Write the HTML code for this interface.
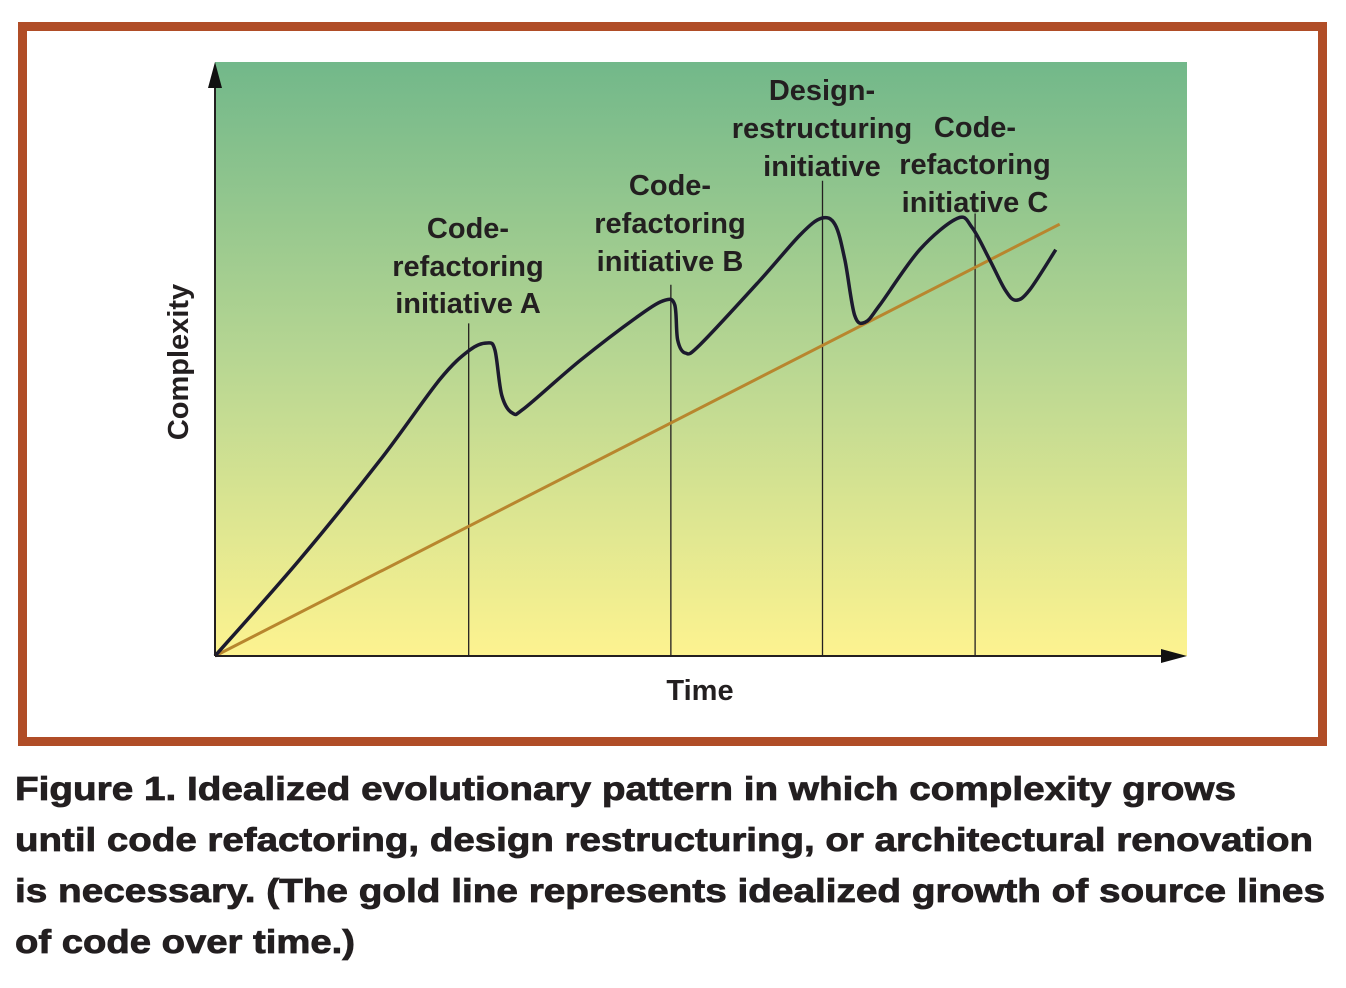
<!DOCTYPE html>
<html><head><meta charset="utf-8"><style>
html,body{margin:0;padding:0;background:#fff;}
svg{display:block;}
.lbl{font-family:"Liberation Sans Narrow","Liberation Sans",sans-serif;font-weight:bold;font-size:29px;fill:#231f20;text-anchor:middle;}
.cap{font-family:"Liberation Sans",sans-serif;font-weight:bold;font-size:33px;fill:#231f20;stroke:#231f20;stroke-width:0.8;}
</style></head><body>
<svg id="chart" width="1346" height="988" viewBox="0 0 1346 988" xmlns="http://www.w3.org/2000/svg">
<defs>
<linearGradient id="bg" x1="0" y1="0" x2="0" y2="1">
<stop offset="0" stop-color="#72b88a"/>
<stop offset="0.5" stop-color="#b7d692"/>
<stop offset="1" stop-color="#fdf390"/>
</linearGradient>
</defs>
<rect x="22.5" y="26.5" width="1300" height="715" fill="#fff" stroke="#b04d27" stroke-width="9"/>
<rect x="215" y="62" width="972" height="594" fill="url(#bg)"/>
<g id="marks"></g>
<line x1="215" y1="656" x2="215" y2="85" stroke="#231f20" stroke-width="2"/>
<polygon points="215,62 208,88 222,88" fill="#111"/>
<line x1="215" y1="656" x2="1165" y2="656" stroke="#231f20" stroke-width="2"/>
<polygon points="1187,656 1161,649 1161,663" fill="#111"/>
<text class="lbl" transform="translate(188,362) rotate(-90)">Complexity</text>
<text class="lbl" x="700" y="700">Time</text>
<g><text class="lbl" x="468" y="238">Code-</text><text class="lbl" x="468" y="276">refactoring</text><text class="lbl" x="468" y="313">initiative A</text></g>
<g><text class="lbl" x="670" y="195">Code-</text><text class="lbl" x="670" y="233">refactoring</text><text class="lbl" x="670" y="271">initiative B</text></g>
<g><text class="lbl" x="822" y="100">Design-</text><text class="lbl" x="822" y="138">restructuring</text><text class="lbl" x="822" y="176">initiative</text></g>
<g><text class="lbl" x="975" y="137">Code-</text><text class="lbl" x="975" y="174">refactoring</text><text class="lbl" x="975" y="212">initiative C</text></g>
<g>
<text class="cap" x="15" y="800" textLength="1221" lengthAdjust="spacingAndGlyphs">Figure 1. Idealized evolutionary pattern in which complexity grows</text>
<text class="cap" x="15" y="851" textLength="1298" lengthAdjust="spacingAndGlyphs">until code refactoring, design restructuring, or architectural renovation</text>
<text class="cap" x="15" y="902" textLength="1310" lengthAdjust="spacingAndGlyphs">is necessary. (The gold line represents idealized growth of source lines</text>
<text class="cap" x="15" y="953" textLength="340" lengthAdjust="spacingAndGlyphs">of code over time.)</text>
</g>
</svg>
<script>
const timeVals=[0,8.7,17.0,23.1,26.2,28.0,28.8,29.5,30.6,31.9,37.6,43.7,46.3,47.3,47.6,48.4,49.9,56.1,60.2,62.4,63.8,64.8,65.8,66.9,68.4,72.5,76.4,77.9,79.7,81.3,82.4,83.8,86.5];
const complexityVals=[0,16.2,33,46.5,51.5,52.7,51.5,43.9,40.9,41.8,49.8,57.4,59.9,59.1,53.2,51,52.4,63.3,70.9,73.7,72.6,66.7,57.4,56.2,59.1,68.4,73.7,72.1,66.7,61.6,59.9,61.6,68.4];
const goldTime=[0,86.9];
const goldVals=[0,72.7];
const initiativeTimes=[26.1,46.9,62.5,78.2];
const initiativeTops=[56,62.5,80,74.5];
const X=v=>215+v*9.72, Y=v=>656-v*5.94;
const NS="http://www.w3.org/2000/svg", g=document.getElementById('marks');
initiativeTimes.forEach((t,i)=>{
 const l=document.createElementNS(NS,'line');
 
 
 l.setAttribute('x1',X(t));l.setAttribute('x2',X(t));l.setAttribute('y1',Y(initiativeTops[i]));l.setAttribute('y2',656);
 l.setAttribute('stroke','#231f20');l.setAttribute('stroke-width','1.3');g.appendChild(l);
});
const gl=document.createElementNS(NS,'line');


gl.setAttribute('x1',X(goldTime[0]));gl.setAttribute('y1',Y(goldVals[0]));gl.setAttribute('x2',X(goldTime[1]));gl.setAttribute('y2',Y(goldVals[1]));
gl.setAttribute('stroke','#b8862e');gl.setAttribute('stroke-width','3');g.appendChild(gl);
const P=timeVals.map((t,i)=>[X(t),Y(complexityVals[i])]);
let d='M'+P[0][0]+','+P[0][1];
for(let i=0;i<P.length-1;i++){
 const p0=P[Math.max(0,i-1)],p1=P[i],p2=P[i+1],p3=P[Math.min(P.length-1,i+2)];
 const c1=[p1[0]+(p2[0]-p0[0])/6,p1[1]+(p2[1]-p0[1])/6],c2=[p2[0]-(p3[0]-p1[0])/6,p2[1]-(p3[1]-p1[1])/6];
 d+=' C'+c1+' '+c2+' '+p2;
}
const cp=document.createElementNS(NS,'path');


cp.setAttribute('d',d);cp.setAttribute('fill','none');cp.setAttribute('stroke','#1c1a2e');cp.setAttribute('stroke-width','3.5');cp.setAttribute('stroke-linejoin','round');
g.appendChild(cp);
</script>
</body></html>
